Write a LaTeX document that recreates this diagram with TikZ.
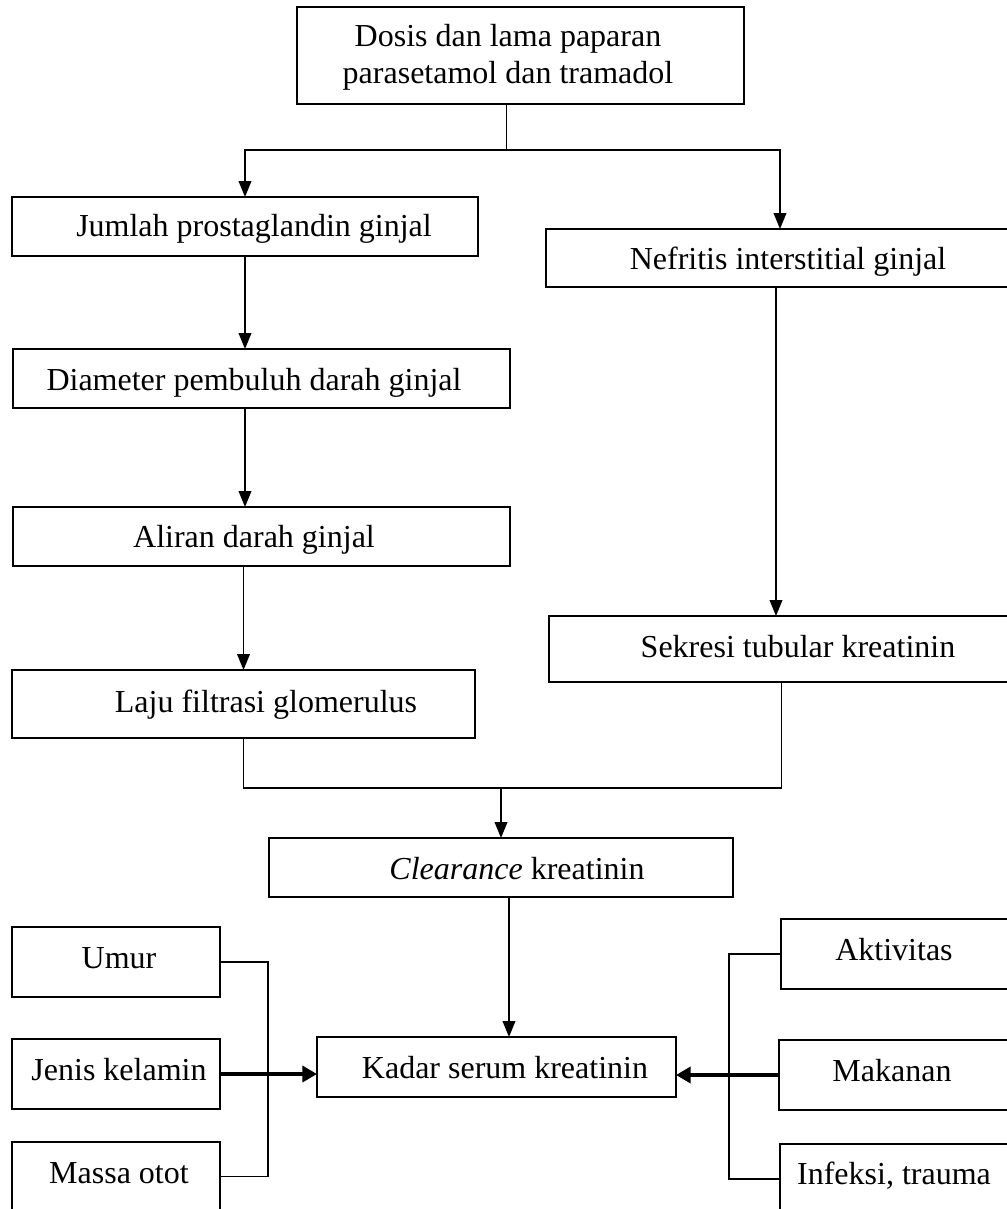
\documentclass[tikz,border=0pt]{standalone}
\usepackage{fontspec}
\setmainfont{Liberation Serif}
\usetikzlibrary{arrows.meta,fit}
\begin{document}
\begin{tikzpicture}[x=0.75pt,y=-0.75pt,
  box/.style={draw,line width=1.6pt,inner sep=0pt,outer sep=0pt,rectangle},
  txt/.style={inner sep=0pt,anchor=base,font=\fontsize{24}{29}\selectfont},
  conn/.style={line width=1.3pt},
  arr/.style={conn,-{Triangle[length=12pt,width=9.5pt]}},
  arrthick/.style={line width=2.8pt,-{Triangle[length=11pt,width=12pt]}}]
\useasboundingbox (0,0) rectangle (1006,1209);
% boxes
\node[box,fit={(297,7)(744,104)}] (top) {};
\node[box,fit={(12,197)(478,256)}] (jumlah) {};
\node[box,fit={(546,229)(1014,287)}] (nefritis) {};
\node[box,fit={(13,349)(510,408)}] (diameter) {};
\node[box,fit={(13,507)(510,566)}] (aliran) {};
\node[box,fit={(12,670)(475,738)}] (laju) {};
\node[box,fit={(549,616)(1014,682)}] (sekresi) {};
\node[box,fit={(269,838)(733,897)}] (clearance) {};
\node[box,fit={(317,1037)(676,1097)}] (kadar) {};
\node[box,fit={(12,927)(220,997)}] (umur) {};
\node[box,fit={(12,1039)(220,1109)}] (jenis) {};
\node[box,fit={(12,1142)(220,1211)}] (massa) {};
\node[box,fit={(781,919)(1014,989)}] (aktivitas) {};
\node[box,fit={(779,1040)(1014,1110)}] (makanan) {};
\node[box,fit={(780,1144)(1014,1214)}] (infeksi) {};
% texts
\node[txt] (t1) at (508,47) {Dosis dan lama paparan};
\node[txt] (t2) at (508,84) {parasetamol dan tramadol};
\node[txt] (t3) at (254,236) {Jumlah prostaglandin ginjal};
\node[txt] (t4) at (788,269) {Nefritis interstitial ginjal};
\node[txt] (t5) at (254,390) {Diameter pembuluh darah ginjal};
\node[txt] (t6) at (254,547) {Aliran darah ginjal};
\node[txt] (t7) at (798,657) {Sekresi tubular kreatinin};
\node[txt] (t8) at (266,712) {Laju filtrasi glomerulus};
\node[txt] (t9) at (517,879) {\textit{Clearance} kreatinin};
\node[txt] (t10) at (505,1078) {Kadar serum kreatinin};
\node[txt] (t11) at (119,968) {Umur};
\node[txt] (t12) at (119,1080) {Jenis kelamin};
\node[txt] (t13) at (119,1183) {Massa otot};
\node[txt] (t14) at (894,960) {Aktivitas};
\node[txt] (t15) at (892,1081) {Makanan};
\node[txt] (t16) at (894,1184) {Infeksi, trauma};
% connectors
\draw[conn] ([xshift=-10.5]top.south) -- ++(0,46) coordinate (split);
\draw[arr] (split) -| (jumlah.north);
\draw[arr] (split) -| (nefritis.north);
\draw[arr] (jumlah.south) -- (jumlah.south |- diameter.north);
\draw[arr] (jumlah.south |- diameter.south) -- (jumlah.south |- aliran.north);
\draw[arr] (laju.north |- aliran.south) -- (laju.north);
\draw[arr] ([xshift=-3]nefritis.south) -- ([xshift=-3]nefritis.south |- sekresi.north);
\draw[conn] (laju.south) -- ++(0,50) coordinate (lj) -| (sekresi.south);
\draw[arr] (lj -| clearance.north) -- (clearance.north);
\draw[arr] ([xshift=6]clearance.south) -- ([xshift=6]clearance.south |- kadar.north);
\draw[conn] (umur.east) -- ++(48,0) |- (massa.east);
\draw[arrthick] (jenis.east) -- (jenis.east -| kadar.west);
\draw[conn] (aktivitas.west) -- ++(-52,0) |- (infeksi.west);
\draw[arrthick] (makanan.west) -- (makanan.west -| kadar.east);
\end{tikzpicture}
\end{document}
